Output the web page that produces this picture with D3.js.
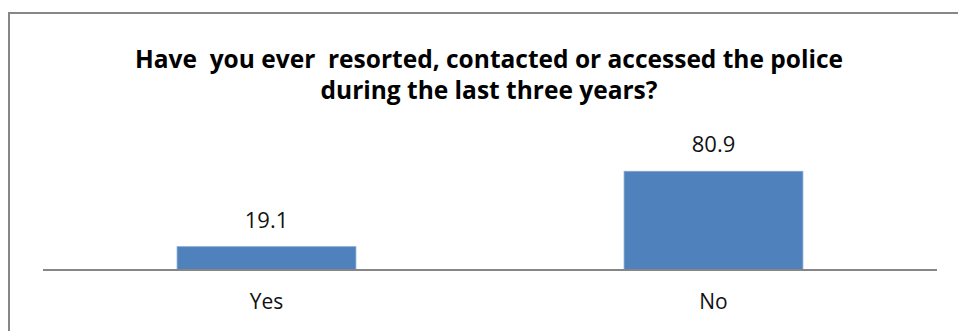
<!DOCTYPE html>
<html>
<head>
<meta charset="utf-8">
<script src="https://cdn.jsdelivr.net/npm/d3@7"></script>
<style>
  html, body { margin: 0; padding: 0; background: #fff; }
  svg { display: block; }
</style>
</head>
<body>
<svg id="chart" width="958" height="331"></svg>
<script>
// Survey answers and their shares (%)
const categories = ["Yes", "No"];
const values = [19.1, 80.9];
const titleLines = [
  "Have  you ever  resorted, contacted or accessed the police",
  "during the last three years?"
];

const svg = d3.select("#chart");

// Chart frame (right and bottom edges fall outside the view)
svg.append("rect")
  .attr("x", 9).attr("y", 13)
  .attr("width", 970).attr("height", 340)
  .attr("fill", "#fff")
  .attr("stroke", "#878787")
  .attr("stroke-width", 2);

const plot = { left: 43, right: 937, baseline: 270 };

const x = d3.scaleBand()
  .domain(categories)
  .range([plot.left, plot.right])
  .paddingInner(0.6)
  .paddingOuter(0.3);

const y = d3.scaleLinear()
  .domain([0, 100])
  .range([plot.baseline, plot.baseline - 122]);

const data = categories.map((c, i) => ({ c, v: values[i] }));

// Title
const title = svg.append("text")
  .attr("text-anchor", "middle")
  .attr("font-family", "'Open Sans', sans-serif")
  .attr("font-weight", "bold")
  .attr("font-size", 24.5)
  .attr("fill", "#000");
title.selectAll("tspan")
  .data(titleLines)
  .join("tspan")
  .attr("x", 489)
  .attr("y", (d, i) => 68 + i * 31)
  .style("white-space", "pre")
  .attr("xml:space", "preserve")
  .text(d => d);

// Bars
svg.append("g")
  .selectAll("rect")
  .data(data)
  .join("rect")
  .attr("x", d => x(d.c))
  .attr("width", x.bandwidth())
  .attr("y", d => y(d.v))
  .attr("height", d => y(0) - y(d.v))
  .attr("fill", "#4F81BD")
  .attr("stroke", "#7FA3D0")
  .attr("stroke-width", 0.8);

// Category axis
const axis = svg.append("g")
  .attr("transform", `translate(0,${plot.baseline})`)
  .call(d3.axisBottom(x).tickSize(0).tickPadding(28));
axis.select(".domain")
  .attr("d", `M${plot.left},0H${plot.right}`)
  .attr("stroke", "#868686")
  .attr("stroke-width", 2);
axis.selectAll(".tick text")
  .attr("font-family", "'Open Sans', sans-serif")
  .attr("font-size", 21)
  .attr("fill", "#111")
  .attr("dy", "0.71em")
  .attr("y", 24);

// Value labels
svg.append("g")
  .selectAll("text")
  .data(data)
  .join("text")
  .attr("x", d => x(d.c) + x.bandwidth() / 2)
  .attr("y", d => y(d.v) - 19)
  .attr("text-anchor", "middle")
  .attr("font-family", "'Open Sans', sans-serif")
  .attr("font-size", 22)
  .attr("fill", "#111")
  .text(d => d.v.toFixed(1));
</script>
</body>
</html>
